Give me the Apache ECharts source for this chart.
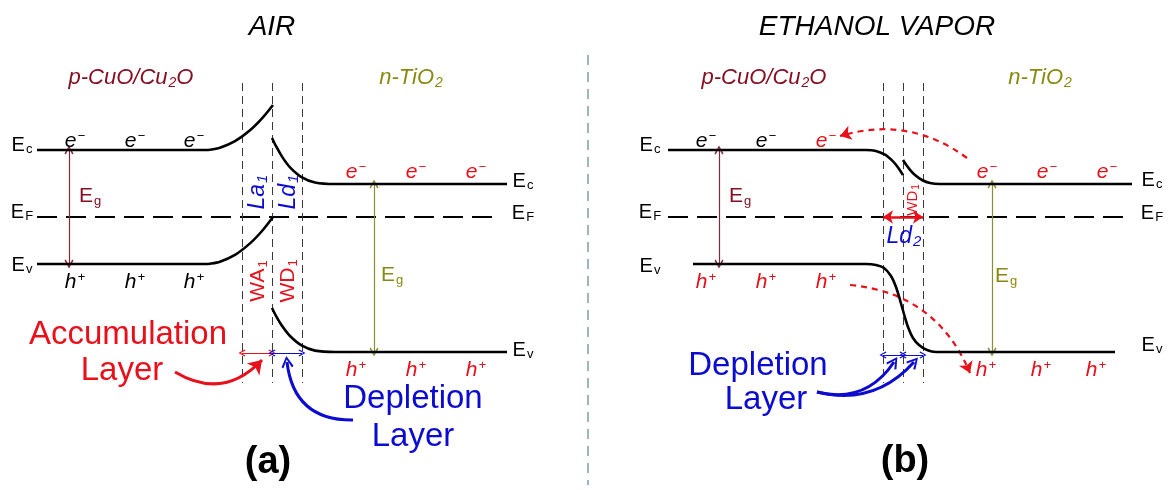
<!DOCTYPE html>
<html>
<head>
<meta charset="utf-8">
<script src="https://cdn.jsdelivr.net/npm/echarts@6/dist/echarts.min.js"></script>
<style>
html,body{margin:0;padding:0;background:#fff;}
#chart{width:1168px;height:490px;}
</style>
</head>
<body>
<div id="chart"></div>
<script>
// ---- band edges (drawing units: x across, y down) ----
// (a) in air
const airConductionP = [[37,150],[205,150],[210,149.8],[220,147.8],[235,141.2],[250,130.3],[262,118.4],[273,105]];
const airConductionN = [[272,138],[276,146.1],[282,156.6],[290,167.3],[302,177.4],[315,182.5],[335,184],[507,184]];
const airValenceP    = [[37,264],[205,264],[210,263.7],[220,261.7],[235,254.9],[250,243.4],[262,231],[273,217]];
const airValenceN    = [[272,308],[276,315.8],[282,325.8],[290,336],[302,345.7],[315,350.6],[335,352],[507,352]];
// (b) in ethanol vapour
const vapConductionP = [[668,150],[866,150],[875,150.7],[885,154.7],[893,161.4],[898,167.4],[903,175]];
const vapConductionN = [[903,160],[906,164.6],[910,169.8],[915,175],[922,180],[930,183.1],[940,184],[1132,184]];
const vapValence     = [[693,264],[866,264],[876,265],[884,268],[891,276],[896,287],[900,300],[904,314],
                        [908,327],[913,338],[919,345],[927,350],[936,352],[948,352],[1115,352]];

// Fermi levels
const fermiLevels = [[[37,217],[500,217]], [[668,217],[1132,217]]];
// junction boundaries [x, yTop, yBottom]
const junctionGuides = [[242,83,383],[272,83,383],[302,83,383],[883,83,383],[903,83,383],[923,83,383]];
const panelDivider = [[588,55],[588,485]];

// band-gap arrows [x, yConduction, yValence]
const gapP = [[69,150,264],[719,150,264]];
const gapN = [[374,184,352],[992,184,352]];

// layer widths [x1, x2, y]
const accumulationWidth = [[242,272,353]];
const depletionWidth    = [[272,302,353],[883,903,355],[903,923,355]];
const vapourLd2         = [[883,923,217]];

// pointer arrows [[from],[to], curveness]
const accumulationPointer = [[[175,372],[262,360],-0.4]];
const depletionPointers   = [[[353,420],[287,362],0.45],[[817,392],[894,362],-0.35],[[817,392],[914,362],-0.3]];
const carrierFlow         = [[[967,158],[840,136],-0.25],[[850,285],[970,373],0.3]];

// ---- labels ----
const panelTitles   = [[272,27,'AIR'],[877,27,'ETHANOL VAPOR']];
const pTypeNames    = [[131,78],[764,78]];
const nTypeNames    = [[411,78],[1040,78]];
const bandNames     = [[22,145,'c'],[22,212,'F'],[22,265,'v'],[523,181,'c'],[523,213,'F'],[523,350,'v'],
                       [650,145,'c'],[650,212,'F'],[650,266,'v'],[1152,180,'c'],[1152,213,'F'],[1152,345,'v']];
const electronsBlack = [[75,141],[135,141],[194,141],[706,141],[766,141]];
const electronsRed   = [[826,141],[356,172],[416,172],[476,172],[987,172],[1047,172],[1107,172]];
const holesBlack     = [[75,282],[135,282],[194,282]];
const holesRed       = [[706,282],[766,282],[826,282],[356,370],[416,370],[476,370],[986,370],[1041,370],[1096,370]];
const gapNamesP      = [[90,196],[740,196]];
const gapNamesN      = [[392,275],[1006,276]];
const widthNamesBlue = [[258,192,'La','1'],[289,192,'Ld','1']];
const widthNamesRed  = [[258,281,'WA','1'],[288,281,'WD','1']];
const layerNamesRed  = [[128,335,'Accumulation'],[122,371,'Layer']];
const layerNamesBlue = [[413,399,'Depletion'],[413,437,'Layer'],[758,366,'Depletion'],[766,400,'Layer']];
const panelTags      = [[268,463,'(a)'],[905,462,'(b)']];

const FONT = '"Liberation Sans", Arial, Helvetica, sans-serif';
const BLACK = '#000000', RED = '#e8101a', BLUE = '#0c0cd0', DARKRED = '#860f22', OLIVE = '#8a8a10', GUIDE = '#3a3a3a';
const CHEVRON = 'path://M5,0L10,9L8.6,10.2L5,3L1.4,10.2L0,9Z';

function textItem(x, y, fmt, o) {
  const S = o.size;
  const base = {fontFamily: FONT, fontStyle: o.italic ? 'italic' : 'normal',
                fontWeight: o.bold ? 'bold' : 'normal', color: o.color, opacity: 1};
  const small = Math.round(S * 0.64);
  return {
    value: [x, y],
    label: {
      show: true, position: 'inside', rotate: o.rotate || 0, opacity: 1,
      formatter: fmt,
      rich: {
        m: Object.assign({}, base, {fontSize: S, lineHeight: Math.round(S * 1.1)}),
        b: Object.assign({}, base, {fontSize: small, lineHeight: small, verticalAlign: 'bottom', padding: [Math.round(S*0.45),0,0,1]}),
        p: Object.assign({}, base, {fontSize: small, lineHeight: small, verticalAlign: 'top', padding: [0,0,Math.round(S*0.35),1]})
      }
    }
  };
}

const texts = [];
panelTitles.forEach(d => texts.push(textItem(d[0], d[1], '{m|' + d[2] + '}', {size: 28, italic: true, color: BLACK})));
pTypeNames.forEach(d => texts.push(textItem(d[0], d[1], '{m|p-CuO/Cu}{b|2}{m|O}', {size: 22, italic: true, color: DARKRED})));
nTypeNames.forEach(d => texts.push(textItem(d[0], d[1], '{m|n-TiO}{b|2}', {size: 22, italic: true, color: OLIVE})));
bandNames.forEach(d => texts.push(textItem(d[0], d[1], '{m|E}{b|' + d[2] + '}', {size: 20, color: BLACK})));
electronsBlack.forEach(d => texts.push(textItem(d[0], d[1], '{m|e}{p|\u2212}', {size: 21, italic: true, color: BLACK})));
electronsRed.forEach(d => texts.push(textItem(d[0], d[1], '{m|e}{p|\u2212}', {size: 21, italic: true, color: RED})));
holesBlack.forEach(d => texts.push(textItem(d[0], d[1], '{m|h}{p|+}', {size: 21, italic: true, color: BLACK})));
holesRed.forEach(d => texts.push(textItem(d[0], d[1], '{m|h}{p|+}', {size: 21, italic: true, color: RED})));
gapNamesP.forEach(d => texts.push(textItem(d[0], d[1], '{m|E}{b|g}', {size: 21, color: DARKRED})));
gapNamesN.forEach(d => texts.push(textItem(d[0], d[1], '{m|E}{b|g}', {size: 21, color: OLIVE})));
widthNamesBlue.forEach(d => texts.push(textItem(d[0], d[1], '{m|' + d[2] + '}{b|' + d[3] + '}', {size: 23, italic: true, color: BLUE, rotate: 90})));
widthNamesRed.forEach(d => texts.push(textItem(d[0], d[1], '{m|' + d[2] + '}{b|' + d[3] + '}', {size: 21, color: RED, rotate: 90})));
texts.push(textItem(913, 200, '{m|WD}{b|1}', {size: 15, color: RED, rotate: 90}));
texts.push(textItem(904, 237, '{m|Ld}{b|2}', {size: 23, italic: true, color: BLUE}));
layerNamesRed.forEach(d => texts.push(textItem(d[0], d[1], '{m|' + d[2] + '}', {size: 33, color: RED})));
layerNamesBlue.forEach(d => texts.push(textItem(d[0], d[1], '{m|' + d[2] + '}', {size: 33, color: BLUE})));
panelTags.forEach(d => texts.push(textItem(d[0], d[1], '{m|' + d[2] + '}', {size: 38, bold: true, color: BLACK})));

// ---- series builders ----
function band(data) {
  return {type: 'line', data: data, smooth: 0.3, symbol: 'none', silent: true,
          lineStyle: {color: BLACK, width: 2.6, opacity: 1}, z: 5};
}
function segments(list, style, extra) {
  return Object.assign({type: 'lines', coordinateSystem: 'cartesian2d', silent: true,
          symbol: ['none','none'], lineStyle: Object.assign({opacity: 1}, style),
          data: list.map(c => ({coords: c}))}, extra || {});
}
function arrows(list, style, symbols, size) {
  return {type: 'lines', coordinateSystem: 'cartesian2d', silent: true, symbol: symbols, symbolSize: size,
          lineStyle: Object.assign({opacity: 1}, style), z: 4,
          data: list.map(a => ({coords: [a[0], a[1]], lineStyle: {curveness: a[2]}}))};
}

const option = {
  animation: false,
  backgroundColor: '#ffffff',
  grid: {left: 0, right: 0, top: 0, bottom: 0},
  xAxis: {type: 'value', min: 0, max: 1168, show: false},
  yAxis: {type: 'value', min: 0, max: 490, inverse: true, show: false},
  series: [
    band(airConductionP), band(airConductionN), band(airValenceP), band(airValenceN),
    band(vapConductionP), band(vapConductionN), band(vapValence),
    segments(fermiLevels, {color: BLACK, width: 2, type: [20, 9]}),
    segments(junctionGuides.map(g => [[g[0], g[1]], [g[0], g[2]]]), {color: GUIDE, width: 1, type: [8, 5]}),
    segments([panelDivider], {color: '#7fa0a6', width: 1.5, type: [10, 7]}),
    arrows(gapP.map(g => [[g[0], g[1]], [g[0], g[2]], 0]), {color: '#86283a', width: 1.2}, [CHEVRON, CHEVRON], 9),
    arrows(gapN.map(g => [[g[0], g[1]], [g[0], g[2]], 0]), {color: '#8a9030', width: 1.2}, [CHEVRON, CHEVRON], 9),
    arrows(accumulationWidth.map(w => [[w[0], w[2]], [w[1], w[2]], 0]), {color: RED, width: 1}, [CHEVRON, CHEVRON], 7),
    arrows(depletionWidth.map(w => [[w[0], w[2]], [w[1], w[2]], 0]), {color: BLUE, width: 1}, [CHEVRON, CHEVRON], 7),
    arrows(vapourLd2.map(w => [[w[0], w[2]], [w[1], w[2]], 0]), {color: RED, width: 2.5}, ['arrow', 'arrow'], 10),
    arrows(accumulationPointer, {color: RED, width: 3}, ['none', 'arrow'], [0, 13]),
    arrows(depletionPointers, {color: BLUE, width: 3}, ['none', CHEVRON], [0, 12]),
    arrows(carrierFlow, {color: RED, width: 2.2, type: [6, 5]}, ['none', 'arrow'], [0, 11]),
    {type: 'scatter', data: texts, symbolSize: 0, silent: true, z: 10,
     itemStyle: {color: 'transparent', opacity: 1},
     label: {show: true, position: 'inside', fontFamily: FONT, opacity: 1}}
  ]
};

const chart = echarts.init(document.getElementById('chart'), null, {renderer: 'canvas'});
chart.setOption(option);
</script>
</body>
</html>
